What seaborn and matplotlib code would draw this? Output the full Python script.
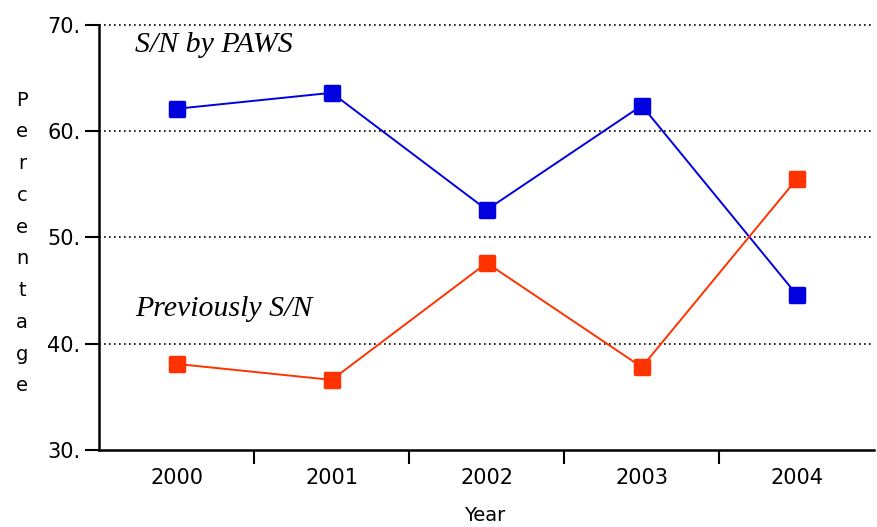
"""Recreate the S/N by PAWS vs Previously S/N percentage chart."""

import matplotlib

matplotlib.use("Agg")

import matplotlib.pyplot as plt
import pandas as pd
import seaborn as sns
from matplotlib.markers import MarkerStyle

YEARS = ["2000", "2001", "2002", "2003", "2004"]
PAWS = [62.1, 63.6, 52.6, 62.4, 44.6]
PREVIOUS = [38.1, 36.6, 47.6, 37.8, 55.5]
Y_TICKS = [30, 40, 50, 60, 70]

BLUE = "#0000e0"
RED = "#ff3300"

df = pd.DataFrame({"year": YEARS, "paws": PAWS, "previous": PREVIOUS})

sns.set_style("white")
plt.rcParams["font.family"] = ["DejaVu Sans"]
plt.rcParams["text.color"] = "black"
plt.rcParams["xtick.color"] = "black"
plt.rcParams["ytick.color"] = "black"

fig = plt.figure(figsize=(8.77, 5.27), dpi=100)
ax = fig.add_axes([0.113, 0.146, 0.884, 0.807])

square = MarkerStyle("s", joinstyle="round")
for col, color in [("paws", BLUE), ("previous", RED)]:
    sns.lineplot(data=df, x="year", y=col, color=color, marker=square, markersize=10,
                 markeredgewidth=2.5, markeredgecolor=color, linewidth=1.4,
                 ax=ax, sort=False)

ax.set_xlim(-0.5, len(YEARS) - 0.5)
ax.set_ylim(30, 70)

# labels at category centres, tick marks at category boundaries
ax.set_xticks(range(len(YEARS)))
ax.set_xticklabels(YEARS, fontsize=15)
ax.set_xticks([i + 0.5 for i in range(len(YEARS) - 1)], minor=True)
ax.tick_params(axis="x", which="major", length=0, pad=13)
ax.tick_params(axis="x", which="minor", length=10, width=1.5, color="black",
               direction="out", bottom=True)

ax.set_yticks(Y_TICKS)
ax.set_yticklabels([f"{t}." for t in Y_TICKS], fontsize=15)
ax.tick_params(axis="y", length=10, width=1.5, color="black", direction="out", left=True)

for y in Y_TICKS[1:]:
    ax.axhline(y, color="black", linestyle=(0, (1, 2)), linewidth=1.2, zorder=0,
               clip_on=False)

for side in ["top", "right"]:
    ax.spines[side].set_visible(False)
for side in ["left", "bottom"]:
    ax.spines[side].set_color("black")
    ax.spines[side].set_linewidth(1.8)

ax.set_xlabel("")
ax.set_ylabel("")

ax.text(-0.27, 67.4, "S/N by PAWS", fontsize=21.5, style="italic",
        family="Liberation Serif", va="baseline", ha="left")
ax.text(-0.27, 42.6, "Previously S/N", fontsize=21.5, style="italic",
        family="Liberation Serif", va="baseline", ha="left")

fig.text(0.025, 0.539, "\n".join("Percentage"), fontsize=14, ha="center",
         va="center", linespacing=1.85)
fig.text(0.553, 0.022, "Year", fontsize=14, ha="center", va="center")

fig.savefig("out.png", dpi=100)
